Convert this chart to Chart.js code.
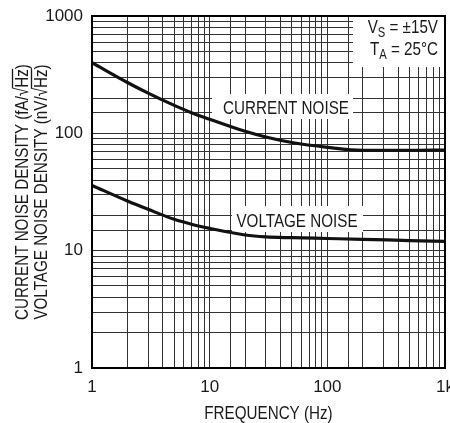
<!DOCTYPE html>
<html>
<head>
<meta charset="utf-8">
<script src="https://cdn.jsdelivr.net/npm/chart.js@4"></script>
<style>
html,body{margin:0;padding:0;background:#fff;}
#wrap{width:450px;height:423px;position:relative;}
</style>
</head>
<body>
<div id="wrap"><canvas id="c" width="450" height="423"></canvas></div>
<script>
const frequencies = [1, 2, 3, 5, 7, 10, 20, 30, 50, 100, 200, 500, 1000];
const currentNoise = [400, 271, 220, 173, 150, 132, 104, 93, 83.5, 76, 71.6, 71.5, 72];
const voltageNoise = [36, 26.5, 22.5, 18.5, 16.8, 15.5, 13.6, 13.1, 12.9, 12.7, 12.5, 12.2, 12.0];
const xTickValues = [1, 10, 100, 1000];
const xTickLabels = ['1', '10', '100', '1k'];
const yTickValues = [1, 10, 100, 1000];
const yTickLabels = ['1', '10', '100', '1000'];

const FONT = '"Liberation Sans", Arial, Helvetica, sans-serif';
const SX = 0.8; // horizontal compression to mimic condensed type
const FS = 19;
const INK = '#1a1a1a';

function pairs(ys){ return frequencies.map((f,i)=>({x:f,y:ys[i]})); }

// draw a run of text parts in a condensed frame; parts: [{t, size, dy, over}]
function drawRun(ctx, parts, x, y, align){
  ctx.save();
  ctx.translate(x, y);
  ctx.scale(SX, 1);
  ctx.textAlign = 'left';
  ctx.textBaseline = 'alphabetic';
  let total = 0;
  parts.forEach(p=>{ ctx.font = (p.size || FS) + 'px ' + FONT; p.w = ctx.measureText(p.t).width; total += p.w; });
  let cx = align === 'center' ? -total/2 : (align === 'right' ? -total : 0);
  parts.forEach(p=>{
    ctx.font = (p.size || FS) + 'px ' + FONT;
    ctx.fillText(p.t, cx, p.dy || 0);
    if (p.over) {
      ctx.lineWidth = 1.3;
      ctx.beginPath();
      ctx.moveTo(cx - 1, -15.5);
      ctx.lineTo(cx + p.w + 0.5, -15.5);
      ctx.stroke();
    }
    cx += p.w;
  });
  ctx.restore();
}

const annotate = {
  id: 'annotate',
  beforeDatasetsDraw(chart){
    const ctx = chart.ctx;
    ctx.save();
    ctx.fillStyle = '#fff';
    ctx.fillRect(212, 94, 141, 25);
    ctx.fillRect(232, 206, 131, 26);
    ctx.fillRect(353, 17, 91, 50);
    ctx.fillStyle = INK;
    ctx.strokeStyle = INK;
    drawRun(ctx, [{t:'CURRENT NOISE'}], 286, 114, 'center');
    drawRun(ctx, [{t:'VOLTAGE NOISE'}], 297, 227, 'center');
    drawRun(ctx, [{t:'V'},{t:'S',size:14,dy:4},{t:' = \u00B115V'}], 438, 33, 'right');
    drawRun(ctx, [{t:'T'},{t:'A',size:14,dy:4},{t:' = 25\u00B0C'}], 438, 55, 'right');
    ctx.restore();
  },
  afterDatasetsDraw(chart){
    const ctx = chart.ctx;
    const a = chart.chartArea;
    ctx.save();
    ctx.strokeStyle = '#000';
    ctx.lineWidth = 2;
    ctx.strokeRect(a.left, a.top, a.right - a.left, a.bottom - a.top);
    ctx.restore();
  },
  afterDraw(chart){
    const ctx = chart.ctx;
    const a = chart.chartArea;
    ctx.save();
    ctx.fillStyle = INK;
    ctx.strokeStyle = INK;
    drawRun(ctx, [{t:'FREQUENCY (Hz)'}], (a.left + a.right)/2, 419, 'center');
    const cy = (a.top + a.bottom)/2;
    ctx.translate(0, cy);
    ctx.rotate(-Math.PI/2);
    drawRun(ctx, [{t:'CURRENT NOISE DENSITY (fA/\u221A'},{t:'Hz',over:true},{t:')'}], 0, 28, 'center');
    drawRun(ctx, [{t:'VOLTAGE NOISE DENSITY (nV/\u221A'},{t:'Hz',over:true},{t:')'}], 0, 47, 'center');
    ctx.restore();
  }
};

const gridStyle = { color: '#333', lineWidth: 1, drawTicks: false };

new Chart(document.getElementById('c'), {
  type: 'line',
  data: {
    datasets: [
      { label: 'CURRENT NOISE', data: pairs(currentNoise), borderColor: '#111', borderWidth: 3.2,
        pointRadius: 0, cubicInterpolationMode: 'monotone', fill: false },
      { label: 'VOLTAGE NOISE', data: pairs(voltageNoise), borderColor: '#111', borderWidth: 3.2,
        pointRadius: 0, cubicInterpolationMode: 'monotone', fill: false }
    ]
  },
  options: {
    responsive: false,
    animation: false,
    devicePixelRatio: 1,
    layout: { padding: { left: 0, top: 16, right: 5, bottom: 0 } },
    plugins: { legend: { display: false }, tooltip: { enabled: false }, title: { display: false } },
    scales: {
      x: {
        type: 'logarithmic', min: 1, max: 1000,
        grid: gridStyle,
        border: { display: true, color: '#000', width: 2 },
        ticks: {
          autoSkip: false, maxRotation: 0, minRotation: 0, padding: 9,
          color: INK, font: { family: FONT, size: 17 },
          callback: function(v){ const i = xTickValues.indexOf(Number(v)); return i >= 0 ? xTickLabels[i] : ''; }
        },
        afterFit: function(s){ s.height = 55; s.paddingRight = 0; s.paddingLeft = 0; }
      },
      y: {
        type: 'logarithmic', min: 1, max: 1000,
        grid: gridStyle,
        border: { display: true, color: '#000', width: 2 },
        ticks: {
          autoSkip: false, padding: 9,
          color: INK, font: { family: FONT, size: 17 },
          callback: function(v){ const i = yTickValues.indexOf(Number(v)); return i >= 0 ? yTickLabels[i] : ''; }
        },
        afterFit: function(s){ s.width = 92; s.paddingTop = 0; s.paddingBottom = 0; }
      }
    }
  },
  plugins: [annotate]
});
</script>
</body>
</html>
